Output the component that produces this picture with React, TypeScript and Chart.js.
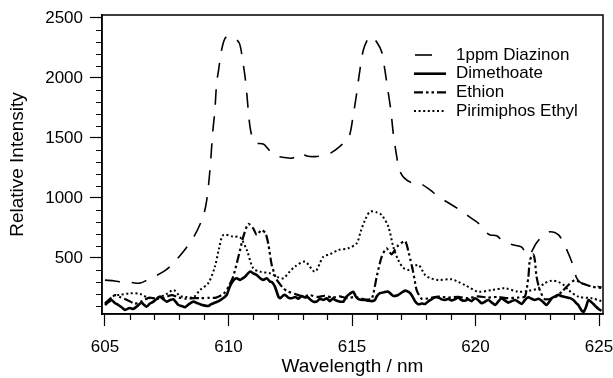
import React, { useEffect, useRef } from "react";
import { Chart, registerables } from "chart.js";

Chart.register(...registerables);

// ---- Data ----
const diazinonNm = [605.0, 605.4, 605.7, 606.0, 606.4, 606.7, 607.0, 607.4, 607.7, 608.2, 608.64, 608.97, 609.12, 609.25, 609.36, 609.45, 609.52, 609.6, 609.72, 609.86, 610.03, 610.2, 610.44, 610.57, 610.67, 610.74, 610.87, 611.0, 611.11, 611.41, 611.6, 611.81, 612.2, 612.6, 612.9, 613.17, 613.5, 613.97, 614.23, 614.45, 614.65, 614.89, 615.04, 615.19, 615.3, 615.46, 615.66, 615.8, 616.0, 616.2, 616.33, 616.43, 616.57, 616.67, 616.81, 616.92, 617.1, 617.41, 617.75, 618.16, 618.5, 618.83, 619.37, 619.7, 620.11, 620.4, 620.59, 620.86, 621.13, 621.5, 621.87, 622.07, 622.2, 622.45, 622.75, 623.02, 623.36, 623.62, 623.89, 624.1, 624.3, 624.7, 625.1];
const diazinonVal = [315, 308, 300, 298, 290, 315, 344, 390, 442, 560, 692, 844, 983, 1233, 1541, 1733, 1956, 2067, 2233, 2331, 2350, 2340, 2289, 2150, 2011, 1872, 1594, 1480, 1456, 1450, 1410, 1358, 1340, 1333, 1375, 1350, 1345, 1358, 1386, 1420, 1456, 1517, 1678, 1872, 2039, 2233, 2331, 2345, 2300, 2219, 2067, 1928, 1733, 1539, 1344, 1233, 1170, 1128, 1122, 1067, 1010, 969, 900, 850, 790, 720, 692, 685, 636, 610, 590, 525, 530, 620, 692, 719, 692, 600, 470, 330, 290, 270, 258];

const dimethoateNm = [605.0, 605.15, 605.27, 605.4, 605.54, 605.7, 605.81, 606.0, 606.14, 606.28, 606.48, 606.58, 606.68, 606.82, 606.96, 607.1, 607.23, 607.37, 607.5, 607.64, 607.77, 607.9, 607.97, 608.1, 608.24, 608.4, 608.58, 608.72, 608.85, 609.0, 609.18, 609.3, 609.45, 609.6, 609.72, 609.85, 609.93, 610.05, 610.19, 610.33, 610.47, 610.57, 610.67, 610.87, 611.0, 611.14, 611.28, 611.41, 611.55, 611.68, 611.75, 611.88, 612.02, 612.09, 612.2, 612.29, 612.42, 612.56, 612.7, 612.83, 612.96, 613.1, 613.2, 613.33, 613.44, 613.57, 613.7, 613.84, 613.97, 614.1, 614.24, 614.31, 614.45, 614.51, 614.65, 614.78, 614.9, 615.05, 615.15, 615.26, 615.4, 615.53, 615.66, 615.8, 615.93, 616.0, 616.13, 616.3, 616.47, 616.6, 616.67, 616.87, 617.0, 617.15, 617.3, 617.41, 617.55, 617.68, 617.82, 617.96, 618.1, 618.23, 618.36, 618.5, 618.63, 618.77, 618.9, 619.03, 619.17, 619.3, 619.43, 619.57, 619.7, 619.84, 619.98, 620.1, 620.25, 620.38, 620.52, 620.65, 620.8, 620.93, 621.06, 621.2, 621.33, 621.46, 621.6, 621.73, 621.87, 622.0, 622.14, 622.27, 622.4, 622.55, 622.7, 622.88, 623.0, 623.08, 623.22, 623.36, 623.5, 623.69, 623.83, 623.96, 624.1, 624.16, 624.3, 624.37, 624.47, 624.57, 624.7, 624.85, 624.98, 625.1];
const dimethoateVal = [108, 135, 150, 125, 108, 85, 67, 83, 75, 94, 128, 110, 94, 120, 136, 160, 178, 155, 136, 150, 156, 125, 108, 100, 89, 115, 136, 125, 114, 105, 100, 115, 128, 140, 156, 175, 192, 260, 311, 331, 317, 330, 344, 386, 372, 358, 331, 317, 331, 303, 300, 261, 178, 164, 185, 192, 170, 164, 175, 160, 183, 170, 175, 150, 136, 136, 160, 150, 164, 140, 164, 150, 140, 136, 136, 178, 200, 219, 180, 156, 150, 150, 144, 140, 150, 180, 206, 215, 219, 195, 183, 192, 210, 228, 215, 192, 140, 114, 120, 117, 140, 156, 172, 170, 155, 150, 160, 145, 156, 170, 150, 144, 155, 140, 164, 150, 122, 135, 150, 130, 108, 140, 164, 145, 128, 140, 150, 135, 117, 150, 172, 160, 150, 160, 140, 108, 140, 164, 180, 192, 180, 172, 165, 150, 120, 108, 60, 50, 90, 150, 130, 100, 75, 60];

const ethionNm = [605.0, 605.2, 605.4, 605.6, 605.9, 606.2, 606.5, 606.8, 607.1, 607.4, 607.7, 608.0, 608.3, 608.6, 608.9, 609.2, 609.5, 609.8, 610.0, 610.19, 610.47, 610.6, 610.8, 611.0, 611.14, 611.34, 611.5, 611.61, 611.75, 611.95, 612.22, 612.42, 612.7, 613.0, 613.3, 613.6, 613.9, 614.2, 614.5, 614.8, 615.1, 615.5, 615.8, 616.0, 616.2, 616.4, 616.6, 616.85, 617.15, 617.3, 617.48, 617.62, 617.82, 618.1, 618.5, 618.9, 619.3, 619.7, 620.1, 620.5, 620.9, 621.3, 621.7, 622.0, 622.14, 622.2, 622.34, 622.4, 622.47, 622.6, 622.81, 623.22, 623.49, 623.76, 624.03, 624.3, 624.7, 625.1];
const ethionVal = [120, 160, 190, 175, 150, 120, 140, 170, 160, 170, 190, 170, 160, 165, 165, 168, 170, 200, 260, 344, 567, 678, 785, 747, 692, 733, 706, 620, 442, 320, 247, 219, 200, 180, 190, 175, 185, 170, 180, 165, 175, 155, 160, 344, 510, 581, 530, 600, 640, 540, 380, 230, 160, 164, 178, 170, 175, 165, 180, 170, 175, 165, 170, 178, 344, 483, 530, 483, 344, 233, 156, 172, 219, 275, 317, 289, 261, 250];

const pirimiphosNm = [605.07, 605.34, 605.61, 606.01, 606.42, 606.82, 607.23, 607.5, 607.77, 608.04, 608.3, 608.58, 608.85, 609.18, 609.45, 609.62, 609.79, 610.19, 610.47, 610.74, 611.0, 611.28, 611.68, 612.0, 612.22, 612.45, 612.69, 613.1, 613.5, 613.84, 614.1, 614.45, 614.85, 615.19, 615.35, 615.53, 615.73, 616.0, 616.2, 616.47, 616.67, 616.87, 617.07, 617.28, 617.68, 617.96, 618.2, 618.49, 619.03, 619.3, 619.57, 620.11, 620.65, 621.19, 621.73, 622.1, 622.54, 622.8, 623.08, 623.35, 623.6, 623.76, 624.16, 624.7, 625.1];
const pirimiphosVal = [122, 183, 192, 206, 200, 164, 178, 200, 233, 183, 175, 172, 233, 289, 428, 580, 692, 678, 672, 567, 414, 386, 372, 340, 331, 380, 428, 469, 386, 511, 530, 567, 581, 622, 720, 817, 886, 880, 858, 761, 594, 483, 420, 400, 442, 358, 330, 317, 322, 300, 275, 219, 233, 247, 219, 225, 247, 290, 311, 300, 270, 233, 178, 164, 140];

const seriesLabels = ["1ppm Diazinon", "Dimethoate", "Ethion", "Pirimiphos Ethyl"];
const xTickValues = [605, 610, 615, 620, 625];
const yTickValues = [500, 1000, 1500, 2000, 2500];
const xRange = [604.88, 625.16];
const yRange = [33, 2525];
const xMinorStep = 1;
const yMinorStep = 100;

const FONT = "'Liberation Sans', Arial, Helvetica, sans-serif";

const toPoints = (xs: number[], ys: number[]) => xs.map((x, i) => ({ x, y: ys[i] }));

const framePlugin = {
  id: "frameAndMinor",
  afterDraw(chart: any) {
    const { ctx, chartArea } = chart;
    const xs = chart.scales.x;
    const ys = chart.scales.y;
    ctx.save();
    ctx.strokeStyle = "#000";
    ctx.lineWidth = 1.5;
    ctx.strokeRect(chartArea.left, chartArea.top, chartArea.right - chartArea.left, chartArea.bottom - chartArea.top);
    ctx.lineWidth = 1.2;
    ctx.beginPath();
    for (let v = Math.ceil(xRange[0]); v <= xRange[1]; v += xMinorStep) {
      if (v % 5 === 0) continue;
      const px = Math.round(xs.getPixelForValue(v)) + 0.5;
      ctx.moveTo(px, chartArea.bottom);
      ctx.lineTo(px, chartArea.bottom + 6);
    }
    for (let v = 100; v <= yRange[1]; v += yMinorStep) {
      if (v % 500 === 0 || v < yRange[0]) continue;
      const py = Math.round(ys.getPixelForValue(v)) + 0.5;
      ctx.moveTo(chartArea.left - 6, py);
      ctx.lineTo(chartArea.left, py);
    }
    ctx.stroke();

    // legend
    const rowY0 = 55;
    const rowH = 18.7;
    chart.data.datasets.forEach((ds: any, i: number) => {
      const y = rowY0 + i * rowH;
      ctx.beginPath();
      ctx.strokeStyle = "#000";
      ctx.lineWidth = ds.borderWidth;
      if (i === 0) {
        ctx.setLineDash([]);
        ctx.moveTo(415, y);
        ctx.lineTo(432, y);
      } else {
        ctx.setLineDash(ds.borderDash || []);
        ctx.moveTo(414, y);
        ctx.lineTo(446, y);
      }
      ctx.stroke();
      ctx.setLineDash([]);
      ctx.fillStyle = "#000";
      ctx.font = `17px ${FONT}`;
      ctx.textBaseline = "middle";
      ctx.textAlign = "left";
      ctx.fillText(ds.label, 456, y);
    });
    ctx.restore();
  },
};

export default function App() {
  const ref = useRef<HTMLCanvasElement | null>(null);
  useEffect(() => {
    if (!ref.current) return;
    Chart.defaults.font.family = FONT;
    const chart = new Chart(ref.current, {
      type: "line",
      data: {
        datasets: [
          {
            label: seriesLabels[0],
            data: toPoints(diazinonNm, diazinonVal),
            borderColor: "#000",
            borderWidth: 1.6,
            borderDash: [15, 12],
            pointRadius: 0,
            tension: 0.3,
            fill: false,
          },
          {
            label: seriesLabels[1],
            data: toPoints(dimethoateNm, dimethoateVal),
            borderColor: "#000",
            borderWidth: 2.6,
            pointRadius: 0,
            tension: 0.2,
            fill: false,
          },
          {
            label: seriesLabels[2],
            data: toPoints(ethionNm, ethionVal),
            borderColor: "#000",
            borderWidth: 2.2,
            borderDash: [9, 3, 2.5, 3, 2.5, 3],
            pointRadius: 0,
            tension: 0.2,
            fill: false,
          },
          {
            label: seriesLabels[3],
            data: toPoints(pirimiphosNm, pirimiphosVal),
            borderColor: "#000",
            borderWidth: 2,
            borderDash: [2, 2.6],
            pointRadius: 0,
            tension: 0.3,
            fill: false,
          },
        ],
      },
      options: {
        animation: false,
        responsive: false,
        devicePixelRatio: 1,
        layout: { padding: { top: 15, right: 10, left: 0, bottom: 0 }, autoPadding: false },
        plugins: { legend: { display: false }, tooltip: { enabled: false } },
        scales: {
          x: {
            type: "linear",
            min: xRange[0],
            max: xRange[1],
            afterFit: (s: any) => {
              s.height = 64;
              s.paddingLeft = 0;
              s.paddingRight = 0;
            },
            afterBuildTicks: (s: any) => {
              s.ticks = xTickValues.map((v) => ({ value: v }));
            },
            ticks: {
              color: "#000",
              font: { size: 17 },
              padding: 11,
              maxRotation: 0,
              autoSkip: false,
              callback: (v: any) => String(v),
            },
            grid: { drawOnChartArea: false, drawTicks: true, tickLength: 12, tickColor: "#000", tickWidth: 1.2 },
            border: { display: true, color: "#000", width: 1.5 },
            title: { display: true, text: "Wavelength / nm", color: "#000", font: { size: 19 }, padding: { top: 0, bottom: 0 } },
          },
          y: {
            type: "linear",
            min: yRange[0],
            max: yRange[1],
            afterFit: (s: any) => {
              s.width = 102;
              s.paddingTop = 0;
              s.paddingBottom = 0;
            },
            afterBuildTicks: (s: any) => {
              s.ticks = yTickValues.map((v) => ({ value: v }));
            },
            ticks: {
              color: "#000",
              font: { size: 17 },
              padding: 7,
              autoSkip: false,
              callback: (v: any) => String(v),
            },
            grid: { drawOnChartArea: false, drawTicks: true, tickLength: 12, tickColor: "#000", tickWidth: 1.2 },
            border: { display: true, color: "#000", width: 1.5 },
            title: { display: true, text: "Relative Intensity", color: "#000", font: { size: 19 }, padding: { top: 6, bottom: 0 } },
          },
        },
      },
      plugins: [framePlugin],
    });
    return () => chart.destroy();
  }, []);
  return (
    <div style={{ position: "fixed", left: 0, top: 0, width: 613, height: 378, background: "#fff" }}>
      <canvas ref={ref} width={613} height={378} style={{ display: "block" }} />
    </div>
  );
}
